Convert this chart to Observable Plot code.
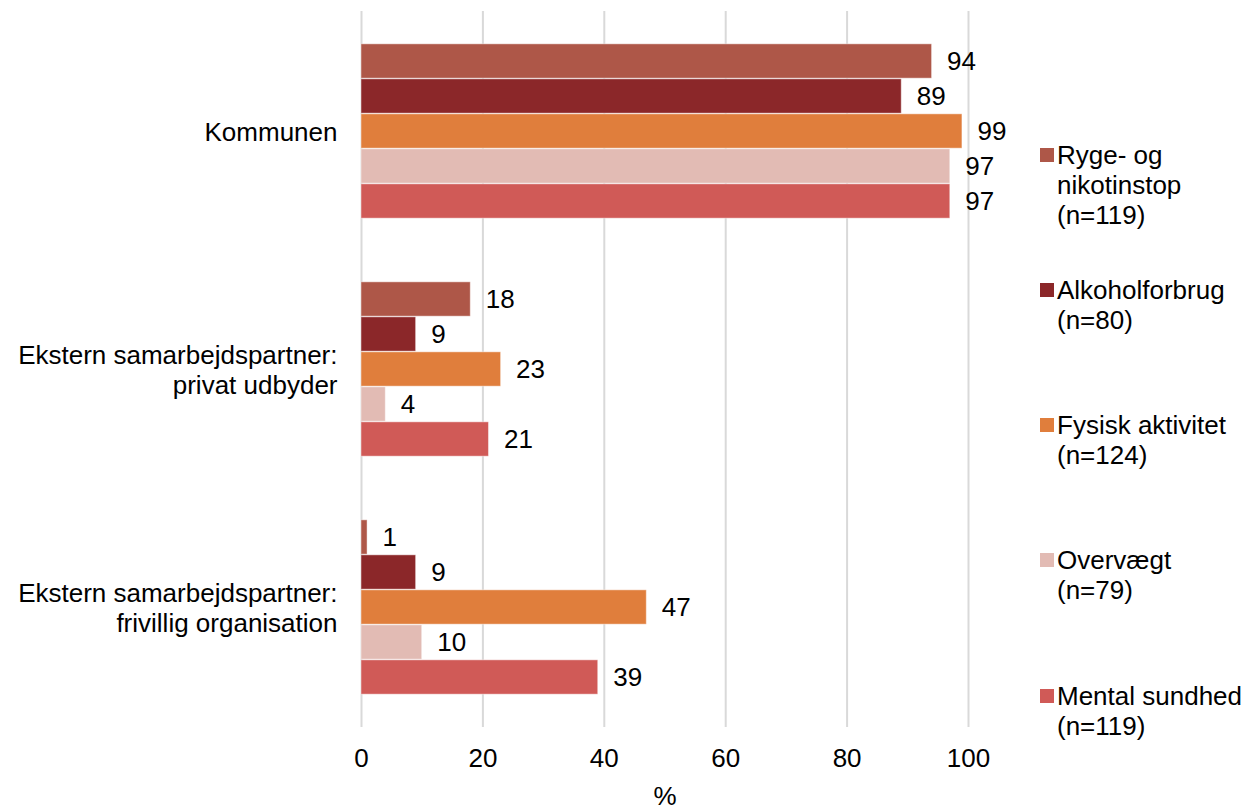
<!DOCTYPE html>
<html>
<head>
<meta charset="utf-8">
<script src="https://cdn.jsdelivr.net/npm/d3@7"></script>
<script src="https://cdn.jsdelivr.net/npm/@observablehq/plot@0.6"></script>
<style>
  html, body { margin: 0; padding: 0; background: #fff; }
  body { width: 1257px; height: 809px; position: relative; overflow: hidden; font-family: "Liberation Sans", Arial, sans-serif; }
  #chart { position: absolute; left: 0; top: 0; }
  #legend { position: absolute; left: 0; top: 0; width: 1257px; height: 809px; pointer-events: none; }
  .item { position: absolute; left: 1040px; font-size: 26px; line-height: 30px; color: #000; }
  .sw { position: absolute; left: 0; top: 8px; width: 14px; height: 14px; }
  .lab { margin-left: 17px; white-space: pre; }
</style>
</head>
<body>
<div id="chart"></div>
<div id="legend"></div>
<script>
// ---- data ----
const groups = ["Kommunen", "Ekstern samarbejdspartner: privat udbyder", "Ekstern samarbejdspartner: frivillig organisation"];
const groupLabels = ["Kommunen", "Ekstern samarbejdspartner:\nprivat udbyder", "Ekstern samarbejdspartner:\nfrivillig organisation"];
const series = ["Ryge- og nikotinstop (n=119)", "Alkoholforbrug (n=80)", "Fysisk aktivitet (n=124)", "Overvægt (n=79)", "Mental sundhed (n=119)"];
const legendLabels = ["Ryge- og\nnikotinstop\n(n=119)", "Alkoholforbrug\n(n=80)", "Fysisk aktivitet\n(n=124)", "Overvægt\n(n=79)", "Mental sundhed\n(n=119)"];
const colors = ["#AE5748", "#8B2729", "#E07E3C", "#E2BBB4", "#D05A57"];
const ryge = [94, 18, 1];
const alkohol = [89, 9, 9];
const fysisk = [99, 23, 47];
const overvaegt = [97, 4, 10];
const mental = [97, 21, 39];
const xTicks = [0, 20, 40, 60, 80, 100];

const seriesValues = [ryge, alkohol, fysisk, overvaegt, mental];

// ---- layout ----
const W = 1035, H = 809;
const mTop = 11, mBottom = 82, mLeft = 361, mRight = W - 968;
const step = (H - mTop - mBottom) / groups.length;
const barH = 35;

const marks = [
  Plot.ruleX(xTicks, {x: d => d, stroke: "#d9d9d9", strokeWidth: 2})
];

seriesValues.forEach((vals, i) => {
  const data = groups.map((g, j) => ({group: g, value: vals[j], series: series[i]}));
  marks.push(Plot.barX(data, {
    x: "value", y: "group",
    fill: colors[i],
    stroke: "#ffffff", strokeOpacity: 0.45, strokeWidth: 1,
    insetTop: step / 2 + (i - 2.5) * barH,
    insetBottom: step / 2 - (i - 1.5) * barH
  }));
  marks.push(Plot.text(data, {
    x: "value", y: "group", text: d => String(d.value),
    dx: 15, dy: (i - 2) * barH, textAnchor: "start",
    fill: "#000", fontSize: 26
  }));
});

marks.push(Plot.axisY({
  tickSize: 0, tickPadding: 24, fontSize: 26, lineHeight: 1.13,
  tickFormat: d => groupLabels[groups.indexOf(d)], label: null
}));
marks.push(Plot.axisX({
  ticks: xTicks, tickSize: 0, tickPadding: 21, fontSize: 26,
  label: "%", labelAnchor: "center", labelOffset: 77, labelArrow: "none"
}));

const chart = Plot.plot({
  width: W, height: H,
  marginTop: mTop, marginBottom: mBottom, marginLeft: mLeft, marginRight: mRight,
  style: {fontFamily: "'Liberation Sans', Arial, sans-serif", fontSize: "26px", color: "#000", background: "#fff"},
  x: {domain: [0, 100]},
  y: {domain: groups, padding: 0},
  marks
});
document.getElementById("chart").appendChild(chart);

// ---- legend ----
const legend = document.getElementById("legend");
const firstLineTops = [140, 275, 410, 545, 681];
series.forEach((s, i) => {
  const it = document.createElement("div");
  it.className = "item";
  it.style.top = firstLineTops[i] + "px";
  const sw = document.createElement("div");
  sw.className = "sw";
  sw.style.background = colors[i];
  const lab = document.createElement("div");
  lab.className = "lab";
  lab.textContent = legendLabels[i];
  it.appendChild(sw); it.appendChild(lab);
  legend.appendChild(it);
});
</script>
</body>
</html>
